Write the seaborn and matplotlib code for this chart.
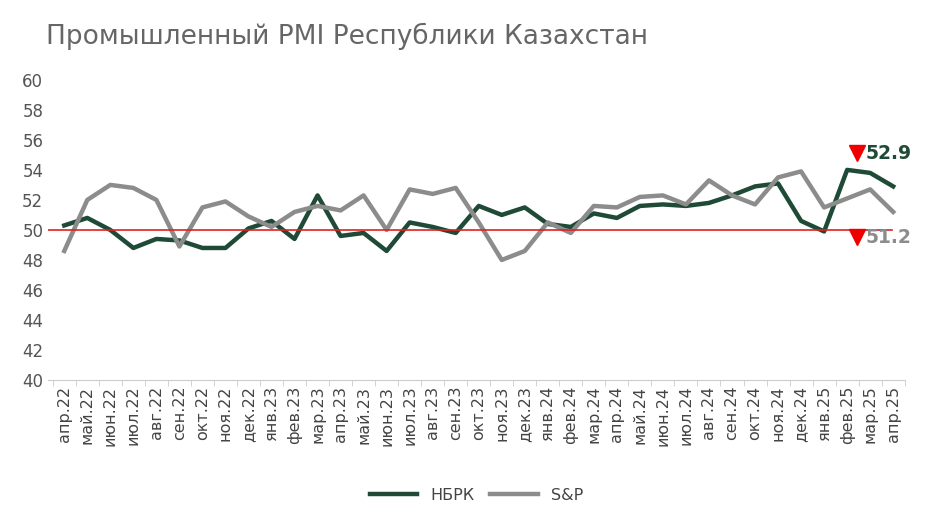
import pandas as pd
import seaborn as sns
import matplotlib.pyplot as plt

months = ['апр.22', 'май.22', 'июн.22', 'июл.22', 'авг.22', 'сен.22', 'окт.22', 'ноя.22', 'дек.22',
          'янв.23', 'фев.23', 'мар.23', 'апр.23', 'май.23', 'июн.23', 'июл.23', 'авг.23', 'сен.23',
          'окт.23', 'ноя.23', 'дек.23', 'янв.24', 'фев.24', 'мар.24', 'апр.24', 'май.24', 'июн.24',
          'июл.24', 'авг.24', 'сен.24', 'окт.24', 'ноя.24', 'дек.24', 'янв.25', 'фев.25', 'мар.25',
          'апр.25']
nbrk = [50.3, 50.8, 50.0, 48.8, 49.4, 49.3, 48.8, 48.8, 50.1, 50.6, 49.4, 52.3, 49.6, 49.8, 48.6,
        50.5, 50.2, 49.8, 51.6, 51.0, 51.5, 50.4, 50.2, 51.1, 50.8, 51.6, 51.7, 51.6, 51.8, 52.3,
        52.9, 53.1, 50.6, 49.9, 54.0, 53.8, 52.9]
sp = [48.6, 52.0, 53.0, 52.8, 52.0, 48.9, 51.5, 51.9, 50.9, 50.2, 51.2, 51.6, 51.3, 52.3, 50.0,
      52.7, 52.4, 52.8, 50.5, 48.0, 48.6, 50.5, 49.8, 51.6, 51.5, 52.2, 52.3, 51.7, 53.3, 52.3,
      51.7, 53.5, 53.9, 51.5, 52.1, 52.7, 51.2]

df = pd.DataFrame({'idx': range(len(months)), 'НБРК': nbrk, 'S&P': sp})
long = df.melt(id_vars='idx', var_name='series', value_name='pmi')

fig = plt.figure(figsize=(9.26, 5.15), dpi=100)
ax = fig.add_axes([0.052, 0.262, 0.925, 0.583])
sns.lineplot(data=long, x='idx', y='pmi', hue='series', palette={'НБРК': '#1f4a35', 'S&P': '#8c8c8c'},
             linewidth=3.2, ax=ax)
ax.axhline(50, color='#e02020', linewidth=1.2, xmin=0, xmax=0.985)

ax.set_ylim(40, 60)
ax.set_yticks(range(40, 61, 2))
ax.set_xlim(-0.7, 36.5)
ax.set_xticks(range(len(months)))
ax.set_xticklabels(months, rotation=90, fontsize=11.5, color='#444444')
ax.set_xticks([i + 0.5 for i in range(-1, len(months))], minor=True)
ax.tick_params(axis='x', which='major', length=0, pad=4)
ax.tick_params(axis='x', which='minor', length=4, color='#cccccc')
ax.tick_params(axis='y', length=0, labelsize=12, labelcolor='#555555')
ax.set_xlabel('')
ax.set_ylabel('')
for s in ['top', 'right', 'left']:
    ax.spines[s].set_visible(False)
ax.spines['bottom'].set_color('#cccccc')

ax.plot([34.45], [55.1], marker='v', color='#ee0000', markersize=11, linestyle='none')
ax.text(34.8, 55.1, '52.9', color='#1f4a35', fontsize=13.5, fontweight='bold', va='center')
ax.plot([34.45], [49.5], marker='v', color='#ee0000', markersize=11, linestyle='none')
ax.text(34.8, 49.5, '51.2', color='#8c8c8c', fontsize=13.5, fontweight='bold', va='center')

leg = ax.legend(loc='upper center', bbox_to_anchor=(0.5, -0.31), ncol=2, frameon=False,
                fontsize=11.5, handlelength=3, columnspacing=1.0)
for t in leg.get_texts():
    t.set_color('#444444')

fig.text(0.05, 0.93, 'Промышленный PMI Республики Казахстан', fontsize=19, color='#666666', va='center')

fig.savefig('out.png', dpi=100)
